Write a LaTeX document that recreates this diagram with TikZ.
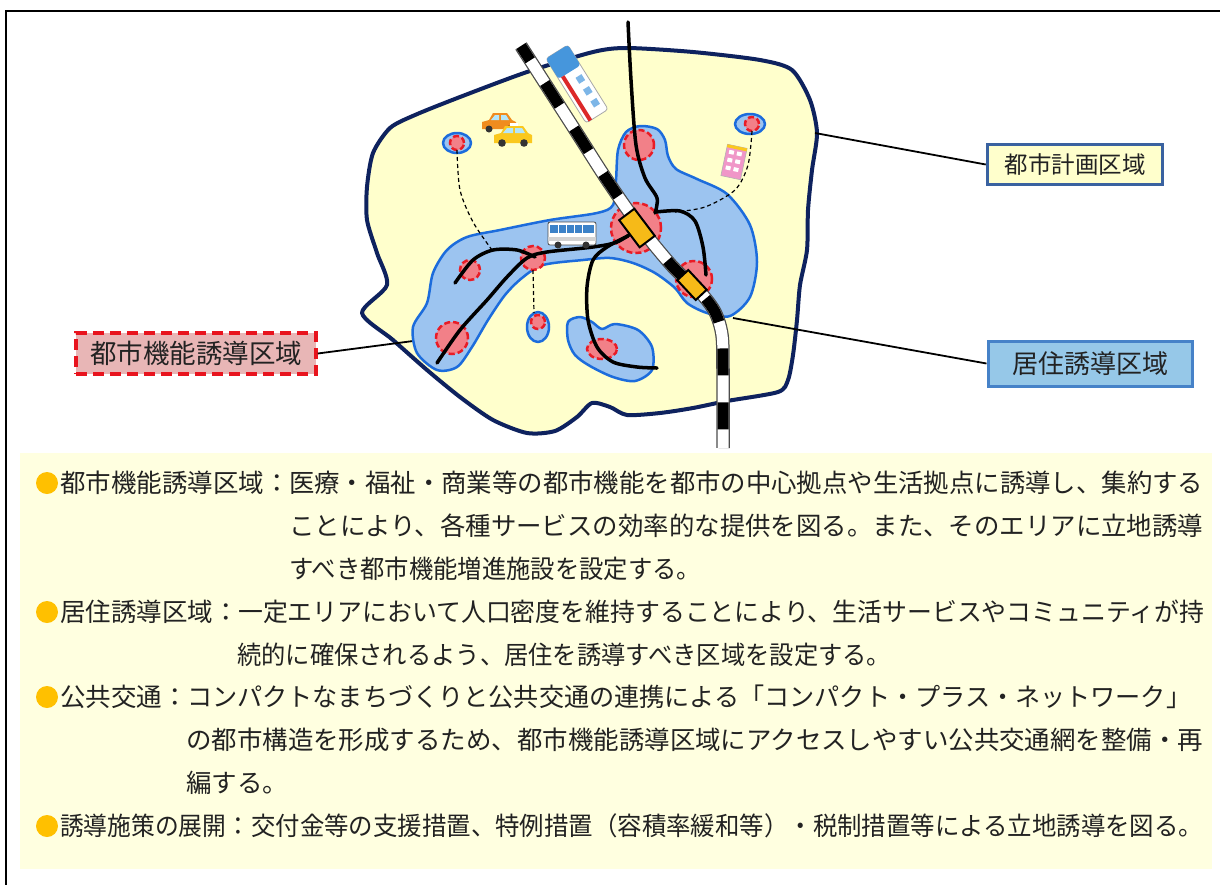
\documentclass[tikz,border=0pt]{standalone}
\usepackage{fontspec}
\setmainfont{Noto Sans CJK JP}
\usepackage{graphicx}
\usetikzlibrary{shapes.geometric}

\definecolor{cityfill}{RGB}{255,255,204}
\definecolor{cityline}{RGB}{14,34,94}
\definecolor{zonefill}{RGB}{156,196,240}
\definecolor{zoneline}{RGB}{28,108,220}
\definecolor{spotfill}{RGB}{242,128,136}
\definecolor{spotline}{RGB}{232,28,38}
\definecolor{stationfill}{RGB}{246,186,24}
\definecolor{panelfill}{RGB}{255,255,224}
\definecolor{dotcol}{RGB}{255,192,0}
\definecolor{txt}{RGB}{34,34,34}
\definecolor{planfill}{RGB}{255,255,204}
\definecolor{planline}{RGB}{58,98,160}
\definecolor{livefill}{RGB}{150,200,232}
\definecolor{liveline}{RGB}{70,130,200}
\definecolor{funcfill}{RGB}{232,182,182}
\definecolor{funcline}{RGB}{232,20,30}
\definecolor{busblue}{RGB}{60,130,200}
\definecolor{trainred}{RGB}{220,40,40}
\definecolor{trainblue}{RGB}{70,150,220}
\definecolor{carorange}{RGB}{240,140,30}
\definecolor{taxiyellow}{RGB}{250,200,30}
\definecolor{bldpink}{RGB}{240,150,200}

% squeeze a line of text to a given width (in pt)
\newcommand\fitw[2]{\resizebox{#1pt}{\height}{#2}}

\begin{document}
\begin{tikzpicture}[x=1pt,y=-1pt,
  city/.style={fill=cityfill, draw=cityline, line width=4pt, line join=round},
  zone/.style={fill=zonefill, draw=zoneline, line width=2.5pt, line join=round},
  spot/.style={circle, fill=spotfill, draw=spotline, line width=2.5pt, dash pattern=on 6pt off 3pt, inner sep=0pt},
  route/.style={line width=3.5pt, line cap=round, line join=round},
  walk/.style={line width=1.2pt, dash pattern=on 4pt off 3pt},
  station/.style={rectangle, fill=stationfill, draw=black, line width=2pt, inner sep=0pt},
  leader/.style={line width=1.8pt, black},
  bodytext/.style={anchor=west, inner sep=0pt, text=txt, font=\fontsize{25.5pt}{30pt}\selectfont},
  dot/.style={circle, fill=dotcol, minimum size=22pt, inner sep=0pt},
  boxtext/.style={inner sep=0pt, text=txt},
  planbox/.style={boxtext, fill=planfill, draw=planline, line width=3.5pt, minimum width=175pt, minimum height=40pt, font=\fontsize{23.5pt}{28pt}\selectfont},
  livebox/.style={boxtext, fill=livefill, draw=liveline, line width=3pt, minimum width=204pt, minimum height=45pt, font=\fontsize{26pt}{30pt}\selectfont},
  funcbox/.style={boxtext, fill=funcfill, draw=funcline, line width=3.5pt, dash pattern=on 11pt off 6pt, minimum width=240pt, minimum height=41pt, font=\fontsize{26.5pt}{30pt}\selectfont}
]
\useasboundingbox (0,0) rectangle (1220,884);
\fill[white] (0,0) rectangle (1220,884);

% outer frame
\draw[line width=2.5pt] (6,890) -- (6,11) -- (1226,11);

% explanation panel
\fill[panelfill] (20,453) rectangle (1212,869);

% ---------------- city planning area ----------------
\draw[city] plot[smooth cycle, tension=0.45] coordinates {
  (362,313) (387,285) (377,253) (367,220) (367,187) (373,153) (390,128) (415,115)
  (460,97) (527,72) (593,52) (627,48) (693,52) (760,60) (792,70) (810,100) (817,133)
  (812,170) (808,210) (807,250) (800,285) (797,320) (793,355) (788,380) (778,392)
  (727,401) (693,408) (660,413) (627,415) (610,407) (592,403) (577,417) (555,431)
  (527,433) (493,420) (460,397) (427,370) (393,340)};

% callouts and their leader lines
\node[planbox] (plan) at (1075,164.5) {都市計画区域};
\node[livebox] (live) at (1090,363.5) {居住誘導区域};
\node[funcbox] (func) at (196,353.5) {都市機能誘導区域};
\coordinate (planpt) at (815,133);
\coordinate (livept) at (733,318);
\coordinate (funcpt) at (436,338);
\draw[leader] (plan.west) -- (planpt);
\draw[leader] (live.west) -- (livept);
\draw[leader] (func.east) -- (funcpt);

% ---------------- residential zones ----------------
\draw[zone] plot[smooth cycle, tension=0.5] coordinates {
  (640,126) (657,129) (665,140) (668,156) (676,169) (697,179) (727,194) (750,225)
  (757,262) (750,297) (730,316) (707,313) (687,303) (675,288) (655,273) (633,263)
  (610,258) (583,260) (543,265) (522,278) (505,295) (488,320) (472,347) (457,367)
  (437,370) (417,353) (413,327) (427,303) (433,273) (447,250) (467,237) (500,230)
  (550,220) (597,213) (613,205) (616,180) (618,150) (626,132)};
\draw[zone] plot[smooth cycle, tension=0.5] coordinates {
  (568,322) (580,317) (592,322) (602,329) (615,324) (638,330) (652,347) (652,370)
  (635,381) (613,377) (590,366) (575,355) (568,340)};
\draw[zone] (538,327) ellipse[x radius=11, y radius=15];
\draw[zone] (457,143) ellipse[x radius=14, y radius=10];
\draw[zone] (750,124) ellipse[x radius=15, y radius=10];

% ---------------- urban function hubs ----------------
\node[spot, minimum size=50pt] (hub) at (636,228) {};
\node[spot, minimum size=30pt] (hubn) at (639,145) {};
\node[spot, minimum size=36pt] (hube) at (694,279) {};
\node[spot, minimum size=24pt] (hubw) at (533,258) {};
\node[spot, minimum size=20pt] (hubww) at (470,270) {};
\node[spot, minimum size=32pt] (hubsw) at (452,338) {};
\node[spot, minimum size=14pt] (hubs) at (538,322) {};
\node[spot, ellipse, minimum width=30pt, minimum height=20pt] (hubss) at (602,349) {};
\node[spot, minimum size=14pt] (hubnw) at (457,143) {};
\node[spot, minimum size=14pt] (hubne) at (752,124) {};

% ---------------- feeder links ----------------
\draw[walk] plot[smooth] coordinates {(457,150) (460,190) (473,222) (492,250)};
\draw[walk] (533,270) -- (534,313);
\draw[walk] plot[smooth] coordinates {(752,131) (748,165) (735,190) (705,207) (675,212)};

% ---------------- bus routes and roads ----------------
\draw[route] plot[smooth] coordinates {(628,22) (631,80) (636,145) (645,178) (657,198) (655,213)};
\draw[route] plot[smooth] coordinates {(656,212) (680,211) (695,221) (703,247) (706,275)};
\draw[route] plot[smooth] coordinates {(636,230) (617,242) (593,247) (547,252) (527,258) (507,277) (487,300) (460,330) (437,363)};
\draw[route] plot[smooth] coordinates {(455,283) (473,260) (493,250) (517,250) (535,257)};
\draw[route] plot[smooth] coordinates {(628,236) (607,247) (593,260) (587,287) (588,320) (597,347) (613,362) (637,367) (657,368)};

% ---------------- railway ----------------
\def\railpath{plot[smooth, tension=0.5] coordinates {(521,46) (575,130) (607,180) (640,227) (673,267) (700,292) (715,312) (722,335) (723,370) (723,448)}}
\draw[line width=13.5pt, gray!60!black] \railpath;
\draw[line width=11pt, white] \railpath;
\draw[line width=11pt, black, dash pattern=on 27pt off 27pt, dash phase=10pt] \railpath;

% stations
\node[station, minimum width=34pt, minimum height=19pt, rotate=-53] (sta) at (637,228) {};
\node[station, minimum width=27pt, minimum height=15pt, rotate=-47] (stb) at (692,285) {};

% ---------------- pictograms ----------------
% train beside the track
\begin{scope}[shift={(577,84)}, rotate=-58]
  \draw[fill=white, draw=gray!70, line width=0.8pt, rounded corners=3pt] (-38,-13) rectangle (38,13);
  \fill[trainblue, rounded corners=3pt] (-38,-13) rectangle (-14,13);
  \fill[trainred] (-14,6) rectangle (38,10);
  \foreach \u in {-6,8,22} \fill[trainblue!70] (\u,-9) rectangle (\u+7,-2);
\end{scope}
% cars
\begin{scope}[shift={(499,124)}]
  \fill[carorange] (-17,5) -- (-17,-2) -- (-10,-4) -- (-6,-11) -- (8,-11) -- (13,-4) -- (17,-2) -- (17,5) -- cycle;
  \fill[cyan!30] (-4,-9) -- (0,-9) -- (0,-4) -- (-8,-4) -- cycle;
  \fill[cyan!30] (2,-9) -- (7,-9) -- (10,-4) -- (2,-4) -- cycle;
  \fill[black!80] (-10,5) circle (3.5) (10,5) circle (3.5);
\end{scope}
\begin{scope}[shift={(513,137)}]
  \fill[taxiyellow] (-19,6) -- (-19,-2) -- (-12,-4) -- (-8,-11) -- (10,-11) -- (15,-4) -- (19,-2) -- (19,6) -- cycle;
  \fill[white] (-3,-14) rectangle (5,-11);
  \fill[cyan!30] (-6,-9) -- (0,-9) -- (0,-4) -- (-10,-4) -- cycle;
  \fill[cyan!30] (2,-9) -- (9,-9) -- (12,-4) -- (2,-4) -- cycle;
  \fill[black!80] (-11,6) circle (3.8) (11,6) circle (3.8);
\end{scope}
% bus
\begin{scope}[shift={(572,234)}]
  \draw[fill=white, draw=gray!60!black, line width=0.8pt, rounded corners=2pt] (-24,-12) rectangle (24,11);
  \fill[busblue] (-22,-9) rectangle (22,-1);
  \foreach \u in {-14,-6,2,10} \draw[white, line width=0.8pt] (\u,-9) -- (\u,-1);
  \fill[gray!35] (-24,3) rectangle (24,7);
  \fill[black!80] (-14,11) circle (3.5) (14,11) circle (3.5);
\end{scope}
% shop building
\begin{scope}[shift={(734,162)}, rotate=-12]
  \draw[fill=bldpink, draw=gray!60, line width=0.6pt] (-10,-16) rectangle (10,16);
  \foreach \v in {-11,-3,5} \foreach \u in {-7,1} \fill[white] (\u,\v) rectangle (\u+5,\v+4);
  \fill[taxiyellow] (-10,-16) rectangle (10,-13);
\end{scope}

% ---------------- explanation text ----------------
\node[dot] (d1) at (47,483) {};
\node[bodytext] (l1a) at (60,483) {都市機能誘導区域：};
\node[bodytext] (l1b) at (289,483) {\fitw{914}{医療・福祉・商業等の都市機能を都市の中心拠点や生活拠点に誘導し、集約する}};
\node[bodytext] (l2) at (289,526) {\fitw{914}{ことにより、各種サービスの効率的な提供を図る。また、そのエリアに立地誘導}};
\node[bodytext] (l3) at (289,569) {\fitw{412}{すべき都市機能増進施設を設定する。}};

\node[dot] (d2) at (47,612) {};
\node[bodytext] (l4a) at (60,612) {居住誘導区域：};
\node[bodytext] (l4b) at (238,612) {\fitw{966}{一定エリアにおいて人口密度を維持することにより、生活サービスやコミュニティが持}};
\node[bodytext] (l5) at (237,655) {\fitw{654}{続的に確保されるよう、居住を誘導すべき区域を設定する。}};

\node[dot] (d3) at (47,697) {};
\node[bodytext] (l6a) at (60,697) {公共交通：};
\node[bodytext] (l6b) at (187,697) {\fitw{1004}{コンパクトなまちづくりと公共交通の連携による「コンパクト・プラス・ネットワーク」}};
\node[bodytext] (l7) at (186,740) {\fitw{1017}{の都市構造を形成するため、都市機能誘導区域にアクセスしやすい公共交通網を整備・再}};
\node[bodytext] (l8) at (186,783) {編する。};

\node[dot] (d4) at (47,826) {};
\node[bodytext] (l9a) at (60,826) {\fitw{190}{誘導施策の展開：}};
\node[bodytext] (l9b) at (251,826) {\fitw{952}{交付金等の支援措置、特例措置（容積率緩和等）・税制措置等による立地誘導を図る。}};
\end{tikzpicture}
\end{document}
